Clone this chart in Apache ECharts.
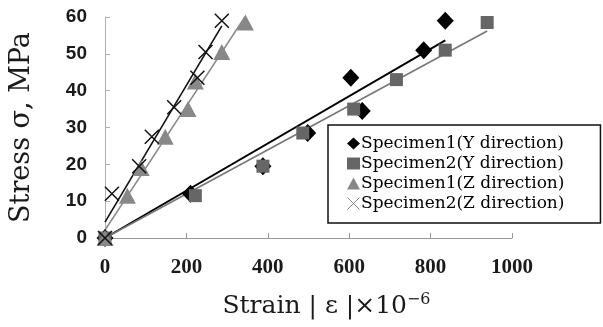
<!DOCTYPE html>
<html><head><meta charset="utf-8">
<script src="https://cdn.jsdelivr.net/npm/echarts@6/dist/echarts.min.js"></script>
<style>html,body{margin:0;padding:0;background:#fff}#c{width:603px;height:327px}</style>
</head><body><div id="c"></div>
<script>
// Data
const seriesNames = ['Specimen1(Y direction)','Specimen2(Y direction)','Specimen1(Z direction)','Specimen2(Z direction)'];
const strainY1 = [0, 210, 388, 498, 604, 632, 783, 836];
const stressY1 = [0, 12, 19.5, 28.5, 43.5, 34.5, 51, 59];
const strainY2 = [0, 222, 388, 486, 611, 716, 836, 939];
const stressY2 = [0, 11.5, 19.5, 28.5, 35, 43, 51, 58.5];
const strainZ1 = [0, 55, 89, 148, 204, 222, 287, 345];
const stressZ1 = [0, 11.5, 19, 27.5, 35, 42.5, 50.5, 58.5];
const strainZ2 = [0, 17, 84, 115, 170, 227, 247, 287];
const stressZ2 = [0, 12, 19.5, 27.5, 35.5, 43.5, 50.5, 59];
const xTicks = [0, 200, 400, 600, 800, 1000];
const yTicks = [0, 10, 20, 30, 40, 50, 60];

function pairs(xs, ys){ return xs.map((x,i)=>[x, ys[i]]); }
// least squares through origin
function fitOrigin(xs, ys){
  let sxy=0,sxx=0; xs.forEach((x,i)=>{sxy+=x*ys[i]; sxx+=x*x;});
  const m=sxy/sxx, xm=Math.max(...xs);
  return [[0,0],[xm,m*xm]];
}
// ordinary least squares
function fitLine(xs, ys){
  const n=xs.length; const mx=xs.reduce((a,b)=>a+b,0)/n, my=ys.reduce((a,b)=>a+b,0)/n;
  let sxy=0,sxx=0; xs.forEach((x,i)=>{sxy+=(x-mx)*(ys[i]-my); sxx+=(x-mx)*(x-mx);});
  const m=sxy/sxx, b=my-m*mx, xm=Math.max(...xs);
  return [[0,b],[xm,b+m*xm]];
}
const crossPath = 'path://M0,0L10,10M10,0L0,10';
const serif = "'DejaVu Serif', 'Liberation Serif', serif";

const chart = echarts.init(document.getElementById('c'), null, {renderer:'canvas'});
chart.setOption({
  animation:false,
  grid:{left:95, right:91, top:17, bottom:89, containLabel:false},
  xAxis:{
    type:'value', min:xTicks[0], max:xTicks[xTicks.length-1], interval:200,
    axisLine:{lineStyle:{color:'#9a9a9a', width:1}},
    axisTick:{inside:true, length:5, lineStyle:{color:'#9a9a9a'}},
    splitLine:{show:false},
    axisLabel:{margin:19, fontFamily:"'Liberation Serif', serif", fontWeight:'bold', fontSize:21, color:'#1a1a1a',
      formatter:(v)=>String(v)},
    name:'{a|Strain | ε |×10}{s|−6}', nameLocation:'middle', nameGap:54,
    nameTextStyle:{padding:[0,0,0,36], rich:{
      a:{fontFamily:serif, fontSize:25, color:'#1a1a1a'},
      s:{fontFamily:serif, fontSize:16, color:'#1a1a1a', verticalAlign:'bottom', padding:[0,0,12,0]}
    }}
  },
  yAxis:{
    type:'value', min:yTicks[0], max:yTicks[yTicks.length-1], interval:10,
    axisLine:{show:true, lineStyle:{color:'#b0b0b0', width:1}},
    axisTick:{show:true, inside:true, length:5, lineStyle:{color:'#b0b0b0'}},
    splitLine:{show:false},
    axisLabel:{margin:18, fontFamily:"'Liberation Sans', Arial, sans-serif", fontWeight:'bold', fontSize:19, color:'#1a1a1a'},
    name:'Stress σ, MPa', nameLocation:'middle', nameRotate:90, nameGap:70,
    nameTextStyle:{fontFamily:serif, fontSize:27, color:'#1a1a1a'}
  },
  legend:{
    orient:'vertical', left:328, top:125,
    padding:[10,36,11,19], itemGap:3, itemWidth:13, itemHeight:12,
    borderColor:'#111', borderWidth:1.5, backgroundColor:'#fff',
    textStyle:{fontFamily:serif, fontSize:17, color:'#000', padding:[0,0,0,-4]},
    data:[
      {name:seriesNames[0]},
      {name:seriesNames[1]},
      {name:seriesNames[2]},
      {name:seriesNames[3], itemStyle:{color:'transparent', borderColor:'#888', borderWidth:1}}
    ]
  },
  series:[
    {type:'line', name:'fitY1', data:fitOrigin(strainY1,stressY1), showSymbol:false, silent:true, z:1,
     lineStyle:{color:'#000', width:2}},
    {type:'line', name:'fitY2', data:fitOrigin(strainY2,stressY2), showSymbol:false, silent:true, z:1,
     lineStyle:{color:'#777', width:1.6}},
    {type:'line', name:'fitZ1', data:fitLine(strainZ1,stressZ1), showSymbol:false, silent:true, z:1,
     lineStyle:{color:'#888', width:1.6}},
    {type:'line', name:'fitZ2', data:fitLine(strainZ2,stressZ2), showSymbol:false, silent:true, z:1,
     lineStyle:{color:'#111', width:1.6}},
    {type:'scatter', name:seriesNames[0], data:pairs(strainY1,stressY1), symbol:'diamond', symbolSize:[17,18], z:2,
     itemStyle:{color:'#000', opacity:1}},
    {type:'scatter', name:seriesNames[1], data:pairs(strainY2,stressY2), symbol:'rect', symbolSize:13, z:3,
     itemStyle:{color:'#666', opacity:1}},
    {type:'scatter', name:seriesNames[2], data:pairs(strainZ1,stressZ1), symbol:'triangle', symbolSize:[17,16], z:4,
     itemStyle:{color:'#888', opacity:1}},
    {type:'scatter', name:seriesNames[3], data:pairs(strainZ2,stressZ2), symbol:crossPath, symbolSize:14, z:5,
     itemStyle:{color:'transparent', borderColor:'#111', borderWidth:1.5, opacity:1}}
  ]
});
</script></body></html>
